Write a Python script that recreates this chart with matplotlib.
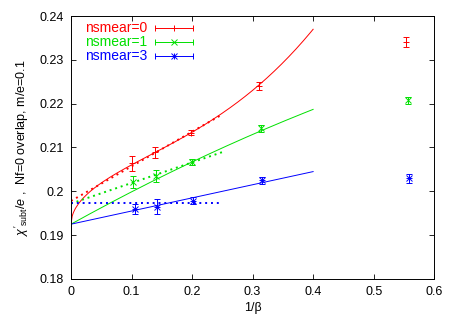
import numpy as np
import matplotlib.pyplot as plt

plt.rcParams['font.family'] = ['Liberation Sans', 'DejaVu Sans']
plt.rcParams['mathtext.fontset'] = 'custom'
plt.rcParams['mathtext.rm'] = 'Liberation Sans'
plt.rcParams['mathtext.it'] = 'Liberation Sans:italic'

# measured points: 1/beta, chi'_subt/e, error
x0 = [0.100, 0.138, 0.198, 0.311, 0.554]
y0 = [0.2064, 0.2089, 0.2134, 0.2240, 0.2341]
e0 = [0.0017, 0.0012, 0.0006, 0.0009, 0.0011]

x1 = [0.102, 0.1405, 0.2005, 0.3135, 0.556]
y1 = [0.2022, 0.2035, 0.2067, 0.2144, 0.2208]
e1 = [0.0014, 0.0014, 0.0007, 0.0008, 0.0008]

x3 = [0.105, 0.1416, 0.202, 0.315, 0.558]
y3 = [0.1959, 0.1965, 0.1979, 0.2025, 0.2030]
e3 = [0.0011, 0.0017, 0.0007, 0.0008, 0.0010]

labels = ['nsmear=0', 'nsmear=1', 'nsmear=3']
colors = ['#ff0000', '#00e000', '#0000ff']

# solid fits on [0, 0.4]
fit0 = (0.1925, 0.0419, 0.281)     # a + b*sqrt(x) + c*x^3
fit1 = (0.1925, 0.0765, -0.0275)   # a + b*x + c*x^2
fit3 = (0.1925, 0.030)             # a + b*x
# dotted linear fits on [0, 0.25]
dot0 = (0.1978, 0.079)
dot1 = (0.1972, 0.047)
dot3 = (0.1973, 0.0)

fig = plt.figure(figsize=(4.58, 3.21), dpi=100)
ax = fig.add_axes([0.155, 0.131, 0.793, 0.819])

xs = np.linspace(0, 0.4, 200)
xd = np.linspace(0, 0.25, 2)
ax.plot(xs, fit0[0] + fit0[1] * np.sqrt(xs) + fit0[2] * xs**3, color=colors[0], lw=0.7)
ax.plot(xs, fit1[0] + fit1[1] * xs + fit1[2] * xs**2, color=colors[1], lw=0.7)
ax.plot(xs, fit3[0] + fit3[1] * xs, color=colors[2], lw=0.7)
for d, c in zip([dot0, dot1, dot3], colors):
    ax.plot(xd, d[0] + d[1] * xd, color=c, lw=1.4, ls=(0, (1, 2)))

kw = dict(ls='none', elinewidth=0.7, capsize=2.2, capthick=0.7, markersize=5, markeredgewidth=0.7)
ax.errorbar(x0, y0, yerr=e0, color=colors[0], marker='+', **kw)
ax.errorbar(x1, y1, yerr=e1, color=colors[1], marker='x', **kw)
ax.errorbar(x3, y3, yerr=e3, color=colors[2], marker='+', **kw)
ax.plot(x3, y3, ls='none', color=colors[2], marker='x', markersize=4, markeredgewidth=0.7)

# key, drawn by hand in gnuplot style
markers = [['+'], ['x'], ['+', 'x']]
for i, (lab, c, mk) in enumerate(zip(labels, colors, markers)):
    yk = 0.954 - i * 0.053
    ax.text(0.038, yk, lab, color=c, fontsize=10, transform=ax.transAxes, va='center', ha='left')
    ax.plot([0.231, 0.336], [yk, yk], color=c, lw=0.7, transform=ax.transAxes)
    ax.plot([0.231, 0.336], [yk, yk], ls='none', marker='|', markersize=4, markeredgewidth=0.7,
            color=c, transform=ax.transAxes)
    for m in mk:
        ax.plot([0.284], [yk], ls='none', marker=m, markersize=5 if m == '+' else 4,
                markeredgewidth=0.7, color=c, transform=ax.transAxes)

ax.set_xlim(0, 0.6)
ax.set_ylim(0.18, 0.24)
ax.set_xticks(np.arange(0, 0.61, 0.1))
ax.set_xticklabels(['0', '0.1', '0.2', '0.3', '0.4', '0.5', '0.6'])
ax.set_yticks(np.arange(0.18, 0.2401, 0.01))
ax.set_yticklabels(['0.18', '0.19', '0.2', '0.21', '0.22', '0.23', '0.24'])
ax.tick_params(direction='in', top=True, right=True, length=3.5, width=0.6, labelsize=9, pad=5)
for s in ax.spines.values():
    s.set_linewidth(0.7)

ax.set_xlabel('1/β', fontsize=9, labelpad=3)
ax.set_ylabel(r"$\chi'_{\rm subt}/e$ ,  Nf=0 overlap, m/e=0.1", fontsize=9, labelpad=6)

fig.savefig('out.png', dpi=100)
